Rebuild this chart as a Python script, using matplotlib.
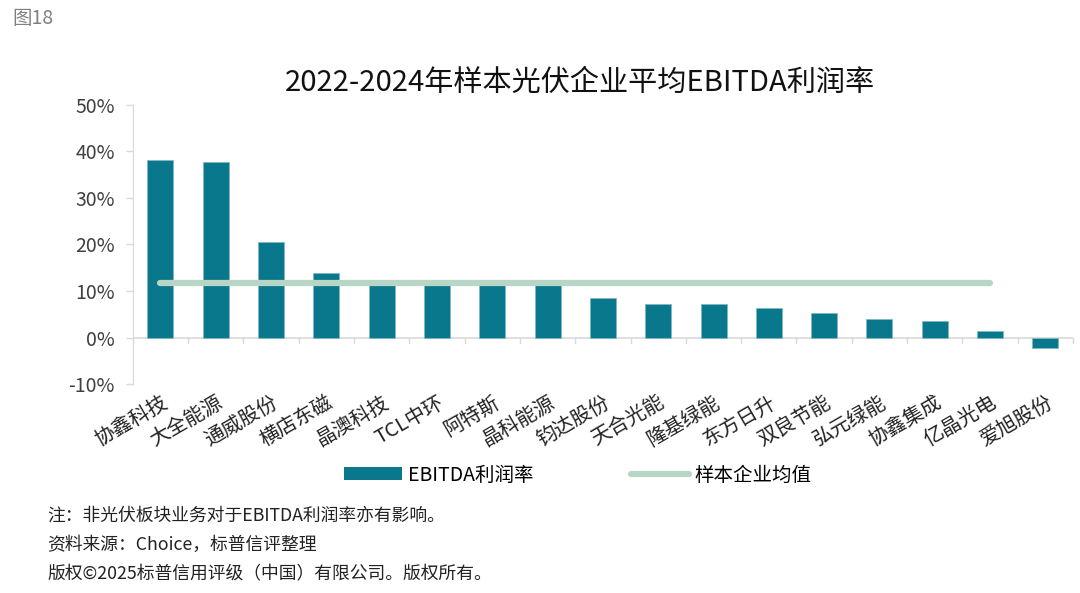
import numpy as np
import matplotlib.pyplot as plt
from matplotlib.lines import Line2D
from matplotlib.patches import Patch

plt.rcParams['font.family'] = ['Noto Sans CJK SC', 'DejaVu Sans']

# data
companies = ['协鑫科技', '大全能源', '通威股份', '横店东磁', '晶澳科技', 'TCL中环', '阿特斯',
             '晶科能源', '钧达股份', '天合光能', '隆基绿能', '东方日升', '双良节能', '弘元绿能',
             '协鑫集成', '亿晶光电', '爱旭股份']
ebitda_margin = [38.2, 37.8, 20.6, 13.8, 12.3, 11.8, 11.6, 11.2, 8.4, 7.3, 7.1, 6.3, 5.2, 4.0,
                 3.6, 1.3, -2.3]
# average line spans the first 16 companies in the source chart
sample_avg = [11.8] * 16

bar_color = '#0A788C'
line_color = '#B8D6C6'
grid_gray = '#D9D9D9'
text_gray = '#404040'

fig = plt.figure(figsize=(10.8, 5.93), dpi=100)
ax = fig.add_axes([0.123, 0.3524, 0.8705, 0.4706])

x = np.arange(len(companies))
ax.bar(x, ebitda_margin, width=0.47, color=bar_color, edgecolor='#7FB8C4', linewidth=0.6, zorder=2)
ax.plot(np.arange(len(sample_avg)), sample_avg, color=line_color, linewidth=4.5,
        solid_capstyle='round', zorder=3)

ax.set_xlim(-0.5, len(companies) - 0.5)
ax.set_ylim(-10, 50)
ax.set_yticks(np.arange(-10, 51, 10))
ax.set_yticklabels([f'{v}%' for v in range(-10, 51, 10)], fontsize=14, color=text_gray)

# x labels on centers
ax.set_xticks(x)
ax.set_xticklabels(companies, rotation=30, ha='right', rotation_mode='anchor',
                   fontsize=14.5, color='#222222')
ax.tick_params(axis='x', length=0, pad=6)
ax.tick_params(axis='y', length=5, color=grid_gray, width=1, pad=8)

for s in ['top', 'right', 'bottom']:
    ax.spines[s].set_visible(False)
ax.spines['left'].set_color(grid_gray)
ax.axhline(0, color=grid_gray, linewidth=1.2, zorder=1)
# tick marks at category boundaries hang below the zero line
for b in np.arange(-0.5, len(companies)):
    ax.plot([b, b], [0, -1.2], color=grid_gray, linewidth=1, clip_on=False, zorder=1)

fig.text(0.011, 0.968, '图18', fontsize=14, color='#808080', va='center')
fig.text(0.537, 0.860, '2022-2024年样本光伏企业平均EBITDA利润率', fontsize=21,
         fontweight='medium', color='#111111', ha='center', va='center')

handles = [Patch(facecolor=bar_color, edgecolor='none'),
           Line2D([0], [0], color=line_color, linewidth=4.5, solid_capstyle='round')]
fig.legend(handles, ['EBITDA利润率', '样本企业均值'], loc='center', ncol=2,
           bbox_to_anchor=(0.535, 0.199), frameon=False, fontsize=14,
           handlelength=3.0, handletextpad=0.3, columnspacing=5)

notes = ['注：非光伏板块业务对于EBITDA利润率亦有影响。',
         '资料来源：Choice，标普信评整理',
         '版权©2025标普信用评级（中国）有限公司。版权所有。']
for i, t in enumerate(notes):
    fig.text(0.044, 0.130 - i * 0.049, t, fontsize=12.8, color='#222222', va='center')

fig.savefig('out.png', dpi=100)
